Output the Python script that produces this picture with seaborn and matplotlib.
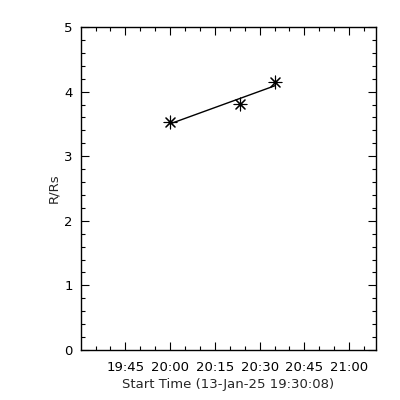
import numpy as np
import pandas as pd
import matplotlib
matplotlib.use("Agg")
import matplotlib.pyplot as plt
import seaborn as sns
from matplotlib.ticker import FixedLocator, MultipleLocator

# Data (times as HH:MM:SS, heights in solar radii)
start_time = "19:30:08"
times = ["20:00:00", "20:23:30", "20:35:15"]
heights = [3.53, 3.81, 4.15]
tick_labels = ["19:45", "20:00", "20:15", "20:30", "20:45", "21:00"]
x_end = "21:09:00"

def to_min(t):
    parts = [int(p) for p in t.split(":")]
    while len(parts) < 3:
        parts.append(0)
    return parts[0] * 60 + parts[1] + parts[2] / 60.0

t0 = to_min(start_time)
xm = [to_min(t) - t0 for t in times]
df = pd.DataFrame({"t": xm, "h": heights})

coef = np.polyfit(df["t"], df["h"], 1)
fit = pd.DataFrame({"t": [df["t"].min(), df["t"].max()]})
fit["h"] = np.polyval(coef, fit["t"])

sns.set_style("ticks")
plt.rcParams["font.family"] = ["DejaVu Sans"]

fig = plt.figure(figsize=(4, 4), dpi=100)
ax = fig.add_axes([81 / 400, 50 / 400, 295 / 400, 323 / 400])

sns.lineplot(data=fit, x="t", y="h", ax=ax, color="black", linewidth=1.0)
sns.scatterplot(data=df, x="t", y="h", ax=ax, marker=(8, 2, 0), s=85,
                color="black", edgecolor="black", linewidth=0.8, zorder=3)

ax.set_xlim(0, to_min(x_end) - t0)
ax.set_ylim(0, 5)

major = [to_min(l) - t0 for l in tick_labels]
ax.xaxis.set_major_locator(FixedLocator(major))
ax.set_xticklabels(tick_labels)
minor = [m for m in np.arange(major[0] - 15, ax.get_xlim()[1], 5) if m > 0]
ax.xaxis.set_minor_locator(FixedLocator(minor))
ax.yaxis.set_major_locator(MultipleLocator(1))
ax.yaxis.set_minor_locator(MultipleLocator(0.2))

ax.tick_params(which="both", direction="in", top=True, right=True,
               colors="black", labelsize=9.5, width=0.8)
ax.tick_params(which="major", length=6, pad=6)
ax.tick_params(axis="x", which="major", pad=8)
ax.tick_params(which="minor", length=3)
for s in ax.spines.values():
    s.set_linewidth(1.0)
    s.set_color("black")

ax.set_xlabel("Start Time (13-Jan-25 19:30:08)", fontsize=9.5, labelpad=3)
ax.set_ylabel("R/Rs", fontsize=9.5, labelpad=3)

fig.savefig("out.png", dpi=100, facecolor="white")
